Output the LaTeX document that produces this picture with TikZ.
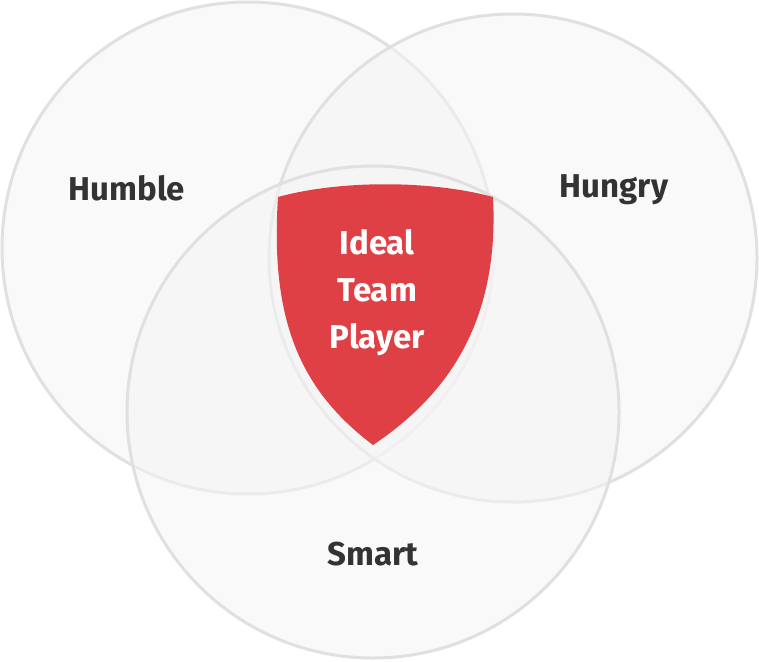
\documentclass[tikz,border=0pt]{standalone}
\usepackage{fontspec}
\setmainfont{Fira Sans}
\definecolor{shieldred}{RGB}{223,64,69}
\begin{document}
\begin{tikzpicture}[x=1pt,y=-1pt,
  circ/.style={draw=black!12,line width=3pt,fill=black!4,fill opacity=0.55},
  lbl/.style={text=black!80,font=\fontsize{33}{38}\selectfont\bfseries},
  shieldlbl/.style={text=white,align=center,font=\fontsize{33}{47}\selectfont\bfseries}]
\useasboundingbox (0,0) rectangle (759,661);
\fill[white] (0,0) rectangle (759,661);
\path[circ] (248,248) circle (246);
\path[circ] (513,258) circle (244);
\path[circ] (373,412) circle (246);
\path[fill=shieldred] (278,197) .. controls (340,180) and (430,180) .. (493,197)
  .. controls (500,330) and (440,400) .. (373,445)
  .. controls (300,390) and (270,320) .. cycle;
\node[lbl] (humble) at (127,188) {Humble};
\node[lbl] (hungry) at (614,190) {Hungry};
\node[lbl] (smart) at (373,554) {Smart};
\node[shieldlbl] (ideal) at (377,293) {Ideal\\Team\\Player};
\end{tikzpicture}
\end{document}
